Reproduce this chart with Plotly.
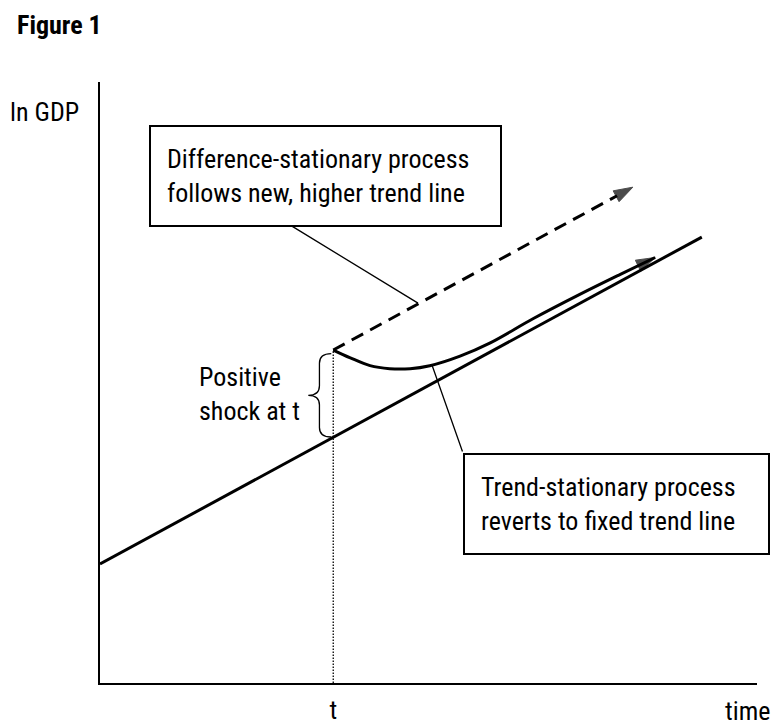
import plotly.graph_objects as go

# ---- data (abstract units: time 0..100, ln GDP 0..100) ----
t_shock = 35.5
trend_time = [0, 91.6]
trend_gdp = [19.8, 74.2]
ds_time = [35.5, 81.1]
ds_gdp = [55.4, 82.5]
ts_time = [35.5, 38.1, 41.1, 44.1, 47.2, 50.2, 54.8, 59.4, 65.9, 73.1, 79.2, 84.5]
ts_gdp = [55.4, 54.1, 52.8, 52.3, 52.3, 52.8, 54.4, 56.6, 60.6, 64.7, 68.0, 70.8]
tick_vals = [t_shock]
tick_text = ["t"]

FONT = "Liberation Sans Narrow, Arial Narrow, Roboto Condensed, DejaVu Sans Condensed, sans-serif"
FS = 26

slope = (trend_gdp[1] - trend_gdp[0]) / (trend_time[1] - trend_time[0])
trend_at_t = trend_gdp[0] + slope * t_shock
shock_top = ds_gdp[0]

fig = go.Figure()

# dotted vertical at t
fig.add_trace(go.Scatter(x=[t_shock, t_shock], y=[0, shock_top], mode="lines",
                         line=dict(color="black", width=1.3, dash="1.5px,1.5px"),
                         hoverinfo="skip", showlegend=False))
# fixed trend line
fig.add_trace(go.Scatter(x=trend_time, y=trend_gdp, mode="lines",
                         line=dict(color="black", width=3), showlegend=False))
# difference-stationary (dashed) with arrow
fig.add_trace(go.Scatter(x=ds_time, y=ds_gdp, mode="lines+markers",
                         line=dict(color="black", width=3, dash="13px,8px"),
                         marker=dict(symbol="arrow", size=[0, 20], color="black",
                                     angleref="previous",
                                     line=dict(color="black", width=1)),
                         showlegend=False))
# trend-stationary curve with dot and arrow
n = len(ts_time)
fig.add_trace(go.Scatter(x=ts_time, y=ts_gdp, mode="lines+markers",
                         line=dict(color="black", width=3, shape="spline", smoothing=1.0),
                         marker=dict(symbol=["circle"] * (n - 1) + ["arrow"],
                                     size=[13] + [0] * (n - 2) + [20], color="black",
                                     angleref="previous",
                                     line=dict(color="black", width=1)),
                         showlegend=False))

# brace
bx_end = t_shock - 0.3
bx_sp = t_shock - 2.1
bx_tip = t_shock - 3.8
by_top = shock_top - 0.6
by_bot = trend_at_t + 0.05
by_mid = (by_top + by_bot) / 2
r = 1.6
path = (f"M {bx_end},{by_top} Q {bx_sp},{by_top} {bx_sp},{by_top - r} "
        f"L {bx_sp},{by_mid + r} Q {bx_sp},{by_mid} {bx_tip},{by_mid} "
        f"Q {bx_sp},{by_mid} {bx_sp},{by_mid - r} "
        f"L {bx_sp},{by_bot + r} Q {bx_sp},{by_bot} {bx_end},{by_bot}")
fig.add_shape(type="path", path=path, xref="x", yref="y",
              line=dict(color="black", width=1.3))

txt = dict(family=FONT, size=FS, color="black")
annos = []
# Box 1
annos.append(dict(x=7.46, y=92.85, xref="x", yref="y", xanchor="left", yanchor="top",
                  text="Difference-stationary process<br>follows new, higher trend line",
                  align="left", showarrow=False, width=317, height=66, borderpad=16,
                  bordercolor="black", borderwidth=2, bgcolor="white", font=txt))
# Box 2
annos.append(dict(x=55.25, y=38.27, xref="x", yref="y", xanchor="left", yanchor="top",
                  text="Trend-stationary process<br>reverts to fixed trend line",
                  align="left", showarrow=False, width=271, height=66, borderpad=16,
                  bordercolor="black", borderwidth=2, bgcolor="white", font=txt))
# connectors
annos.append(dict(x=48.4, y=63.2, xref="x", yref="y", ax=28.92, ay=76.21,
                  axref="x", ayref="y", text="", showarrow=True, arrowhead=0,
                  arrowwidth=1.3, arrowcolor="black", standoff=0, startstandoff=0))
annos.append(dict(x=50.53, y=52.91, xref="x", yref="y", ax=55.25, ay=38.27,
                  axref="x", ayref="y", text="", showarrow=True, arrowhead=0,
                  arrowwidth=1.3, arrowcolor="black", standoff=0, startstandoff=0))
# labels
annos.append(dict(x=14.76, y=48.17, xref="x", yref="y", xanchor="left", yanchor="middle",
                  text="Positive<br>shock at t", align="left", showarrow=False, font=txt))
annos.append(dict(x=-0.0852, y=0.950, xref="paper", yref="paper", xanchor="center",
                  yanchor="middle", text="ln GDP", showarrow=False, font=txt))
annos.append(dict(x=0.9848, y=-0.0466, xref="paper", yref="paper", xanchor="center",
                  yanchor="middle", text="time", showarrow=False, font=txt))
annos.append(dict(x=-0.1294, y=1.0948, xref="paper", yref="paper", xanchor="left",
                  yanchor="middle", text="<b>Figure 1</b>", showarrow=False, font=txt))

fig.update_layout(
    width=772, height=727,
    margin=dict(l=100, r=15, t=82, b=44, pad=0, autoexpand=False),
    paper_bgcolor="white", plot_bgcolor="white",
    annotations=annos,
    font=txt,
    xaxis=dict(range=[0, 100], showline=True, linecolor="black", linewidth=2,
               showgrid=False, zeroline=False, ticks="", tickvals=tick_vals,
               ticktext=tick_text, ticklabelstandoff=3, tickfont=txt,
               automargin=False, fixedrange=True),
    yaxis=dict(range=[0, 100], showline=True, linecolor="black", linewidth=2,
               showgrid=False, zeroline=False, ticks="", showticklabels=False,
               automargin=False, fixedrange=True),
    showlegend=False,
)

fig.write_html("out.html", config={"displayModeBar": False},
               post_script="document.body.style.margin='0';"
                           "document.body.style.overflow='hidden';")
